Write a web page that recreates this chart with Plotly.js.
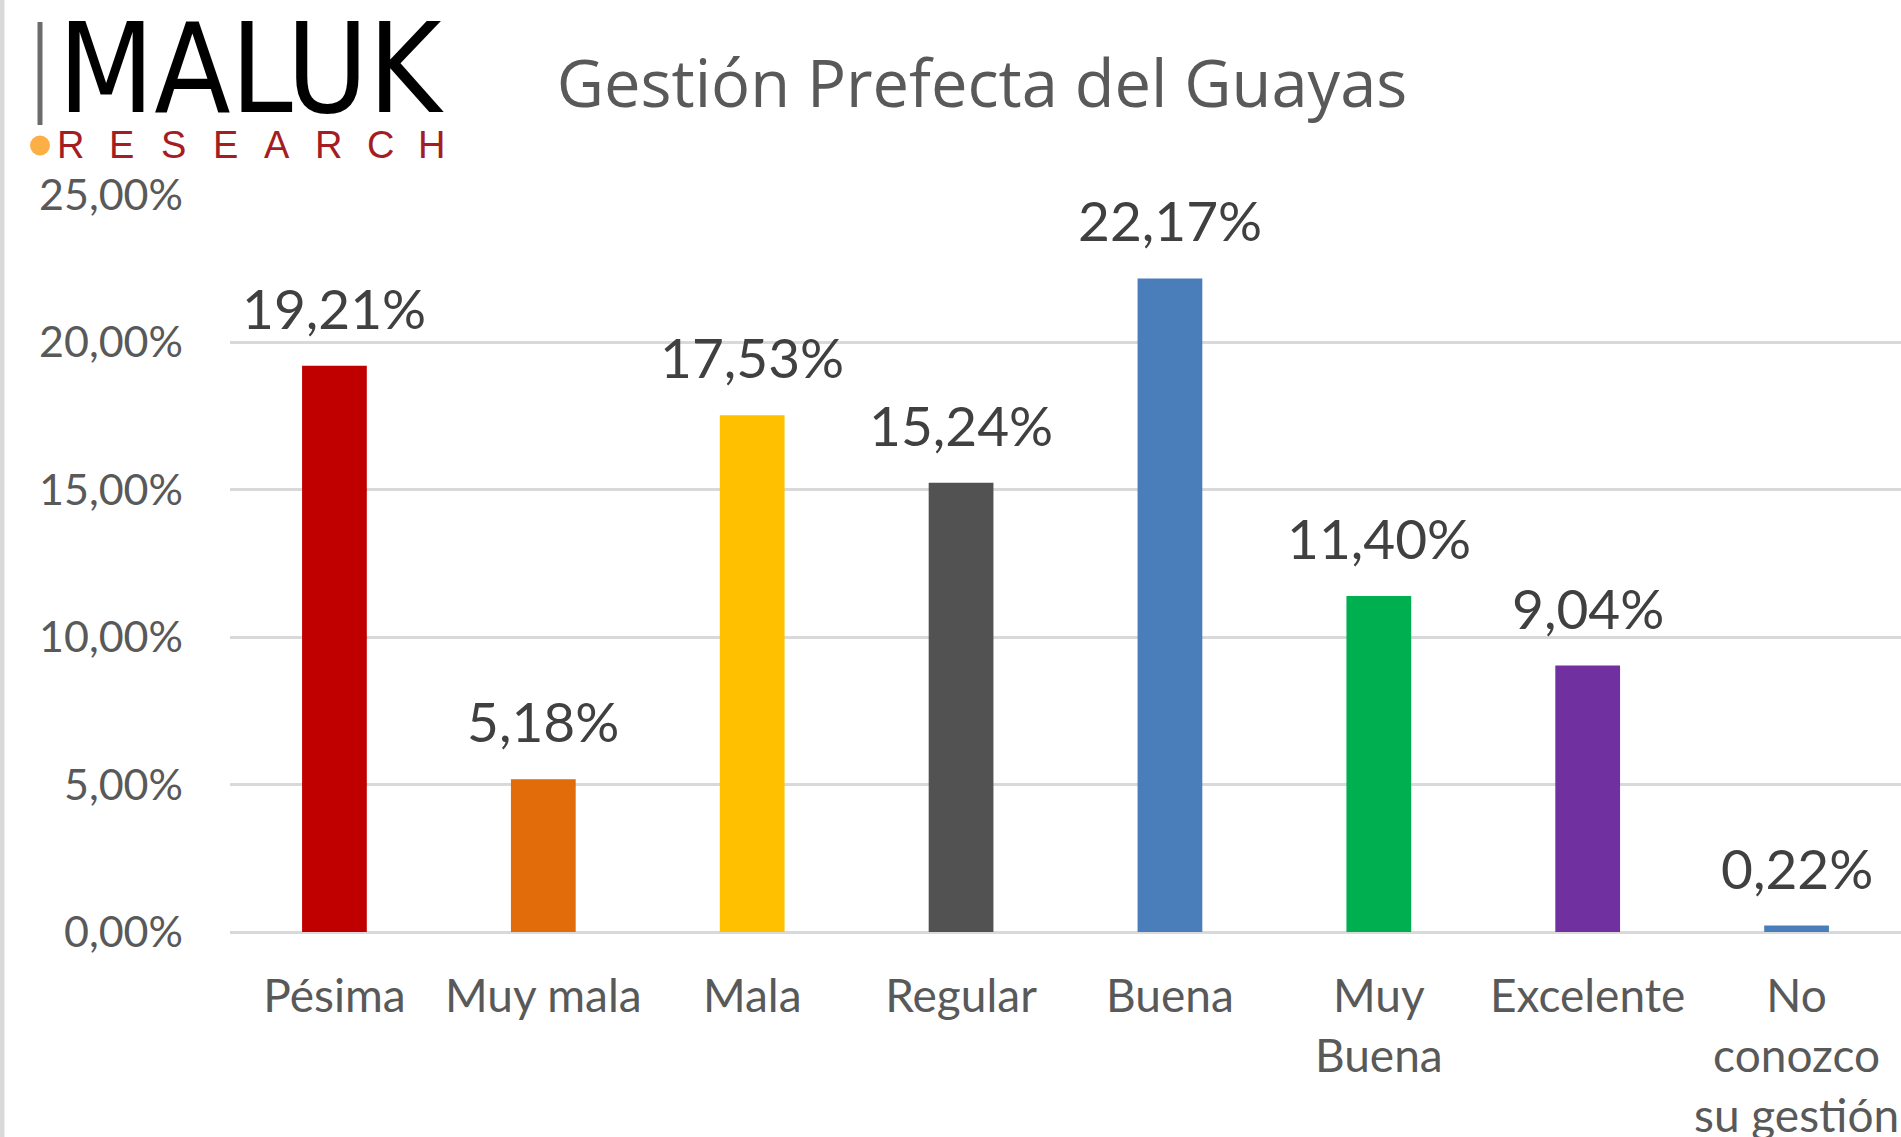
<!DOCTYPE html>
<html>
<head>
<meta charset="utf-8">
<script src="https://cdn.plot.ly/plotly-3.0.1.min.js"></script>
<style>html,body{margin:0;padding:0;background:#fff;}#chart{width:1901px;height:1137px;}</style>
</head>
<body>
<div id="chart"></div>
<script>
const categories = ["Pésima", "Muy mala", "Mala", "Regular", "Buena", "Muy<br>Buena", "Excelente", "No<br>conozco<br>su gestión"];
const values = [19.21, 5.18, 17.53, 15.24, 22.17, 11.40, 9.04, 0.22];
const barColors = ["#C00000", "#E26B0A", "#FFC000", "#525252", "#4A7EBB", "#00B050", "#7030A0", "#4A7EBB"];
const yTicks = [0, 5, 10, 15, 20, 25];
const titleText = "Gestión Prefecta del Guayas";
const logoMain = "MALUK";
const logoSub = "RESEARCH";

const W = 1901, H = 1137;
const mL = 230, mR = 0, mT = 195, mB = 205;
const pw = W - mL - mR, ph = H - mT - mB;
const px = x => (x - mL) / pw;
const py = y => (H - mB - y) / ph;

const fmt = v => v.toFixed(2).replace('.', ',') + '%';

const annotations = values.map((v, i) => ({
  x: categories[i], y: v, xref: 'x', yref: 'y',
  text: fmt(v), showarrow: false, yanchor: 'middle', yshift: 58,
  font: {family: 'Lato, sans-serif', size: 55, color: '#404040'}
}));

annotations.push({
  x: px(57), y: py(68.5), xref: 'paper', yref: 'paper', xanchor: 'left', yanchor: 'middle',
  text: logoMain, showarrow: false, height: 95, valign: 'middle', borderpad: 0,
  font: {family: '"DejaVu Sans Condensed", "DejaVu Sans", sans-serif', size: 124, color: '#000000'}
});
logoSub.split('').forEach((ch, i) => {
  annotations.push({
    x: px(70 + i * 51.7), y: py(145), xref: 'paper', yref: 'paper', xanchor: 'center', yanchor: 'middle',
    text: ch, showarrow: false,
    font: {family: '"Liberation Sans", sans-serif', size: 38, color: '#A51C22'}
  });
});

const shapes = [
  {type: 'line', xref: 'paper', yref: 'paper', x0: px(2), x1: px(2), y0: py(0), y1: py(H), line: {color: '#d9d9d9', width: 5}},
  {type: 'line', xref: 'paper', yref: 'paper', x0: px(40), x1: px(40), y0: py(22), y1: py(125), line: {color: '#6b6b6b', width: 5}},
  {type: 'circle', xref: 'paper', yref: 'paper', x0: px(30), x1: px(50), y0: py(135.5), y1: py(155.5), fillcolor: '#FBAF45', line: {width: 0}}
];

const trace = {
  type: 'bar', x: categories, y: values,
  marker: {color: barColors, line: {width: 0}},
  hoverinfo: 'none'
};

const layout = {
  width: W, height: H,
  margin: {l: mL, r: mR, t: mT, b: mB, pad: 0},
  paper_bgcolor: '#ffffff', plot_bgcolor: '#ffffff',
  separators: ',.',
  showlegend: false,
  bargap: 0.69,
  title: {
    text: titleText, xref: 'container', yref: 'container', x: 982 / W, y: 1 - 84 / H,
    xanchor: 'center', yanchor: 'middle',
    font: {family: '"Open Sans", sans-serif', size: 65, color: '#595959'}
  },
  xaxis: {
    type: 'category', range: [-0.5, 7.5], showgrid: false, zeroline: false, showline: false,
    ticks: '', ticklabelstandoff: 33,
    tickfont: {family: 'Lato, sans-serif', size: 46, color: '#595959'}
  },
  yaxis: {
    range: [0, 25], tickmode: 'array', tickvals: yTicks, ticktext: yTicks.map(fmt),
    showgrid: true, gridcolor: '#d9d9d9', gridwidth: 3,
    zeroline: true, zerolinecolor: '#d9d9d9', zerolinewidth: 3,
    showline: false, ticks: '', ticklabelstandoff: 46,
    tickfont: {family: 'Lato, sans-serif', size: 43, color: '#595959'}
  },
  annotations: annotations,
  shapes: shapes
};

Plotly.newPlot('chart', [trace], layout, {displayModeBar: false, staticPlot: true});
</script>
</body>
</html>
